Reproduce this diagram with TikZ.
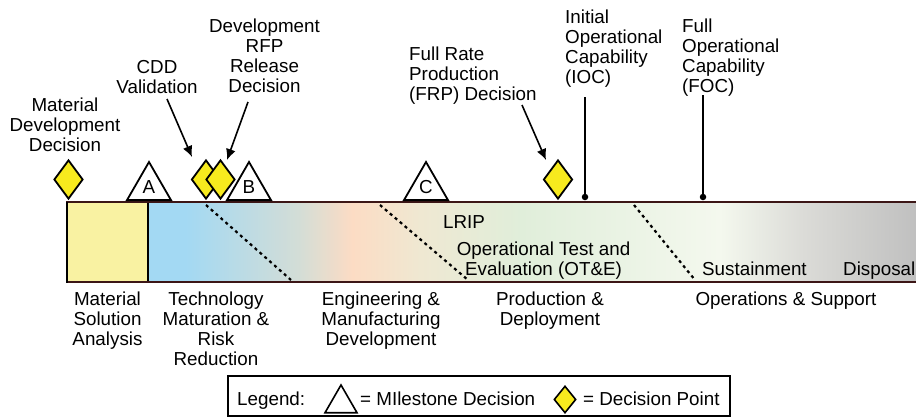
\documentclass[tikz,border=0pt]{standalone}
\usepackage{fontspec}
\setmainfont{Liberation Sans}
\usetikzlibrary{shapes.geometric,arrows.meta}
\definecolor{dyellow}{RGB}{247,234,30}
\definecolor{boxyellow}{RGB}{249,242,162}
\definecolor{barline}{RGB}{60,22,22}
\definecolor{gA}{RGB}{163,217,243}
\definecolor{gB}{RGB}{212,221,214}
\definecolor{gC}{RGB}{252,220,196}
\definecolor{gD}{RGB}{239,232,210}
\definecolor{gE}{RGB}{224,238,218}
\definecolor{gF}{RGB}{244,248,238}
\definecolor{gG}{RGB}{220,220,216}
\definecolor{gH}{RGB}{191,191,191}
\tikzset{
  lbl/.style={font=\fontsize{18.8}{20}\selectfont, inner sep=0pt, align=center, anchor=base},
  lbll/.style={font=\fontsize{18.8}{20}\selectfont, inner sep=0pt, align=left, anchor=base west},
  milestone/.style={regular polygon, regular polygon sides=3, draw=black, fill=white, line width=1.8pt, inner sep=0pt, font=\fontsize{18.8}{20}\selectfont},
  dpoint/.style={diamond, draw=black, fill=dyellow, line width=1.8pt, inner sep=0pt},
  arr/.style={line width=1.6pt, -{Latex[length=11pt,width=10pt]}},
  dotline/.style={line width=2.2pt, dash pattern=on 3pt off 3.5pt},
  stem/.style={line width=1.6pt},
  dotnode/.style={circle, fill=black, inner sep=0pt, minimum size=6.5pt}
}
\begin{document}
\begin{tikzpicture}[x=1pt,y=-1pt]
\useasboundingbox (0,0) rectangle (916,418);
% bar background
\fill[boxyellow] (67,202) rectangle (148,282);
\fill[gA] (148,202) rectangle (186,282);
\shade[left color=gA, right color=gB] (185.5,202) rectangle (300.5,282);
\shade[left color=gB, right color=gC] (300,202) rectangle (352.5,282);
\shade[left color=gC, right color=gD] (352,202) rectangle (420.5,282);
\shade[left color=gD, right color=gE] (420,202) rectangle (520.5,282);
\shade[left color=gE, right color=gF] (520,202) rectangle (720.5,282);
\shade[left color=gF, right color=gG] (720,202) rectangle (800.5,282);
\shade[left color=gG, right color=gH] (800,202) rectangle (920,282);
% phase dividers
\draw[dotline] (206,205) -- (291,280);
\draw[dotline] (380,205) -- (468,280);
\draw[dotline] (634,205) -- (695,280);
% bar border
\draw[barline, line width=2pt] (920,202) -- (67,202) -- (67,282) -- (920,282);
\draw[black, line width=1.8pt] (67,201.5) -- (67,282.5);
\draw[black, line width=1.6pt] (148,203) -- (148,281);
% milestones
\node[milestone, minimum size=50.8pt] (msA) at (149,187.4) {A};
\node[milestone, minimum size=50.8pt] (msB) at (249,187.4) {B};
\node[milestone, minimum size=50.8pt] (msC) at (426,187.4) {C};
% decision points
\node[dpoint, minimum width=29pt, minimum height=39pt] (dpMDD) at (68.5,179.5) {};
\node[dpoint, minimum width=29pt, minimum height=39pt] (dpCDD) at (206,179.5) {};
\node[dpoint, minimum width=29pt, minimum height=39pt] (dpRFP) at (220.5,179.5) {};
\node[dpoint, minimum width=29pt, minimum height=39pt] (dpFRP) at (558,179.5) {};
% top labels (anchor = baseline of last line)
\node[lbl] (tMDD) at (65,151.5) {Material\\Development\\Decision};
\node[lbl] (tCDD) at (157,93.5) {CDD\\Validation};
\node[lbl] (tRFP) at (264.5,92) {Development\\RFP\\Release\\Decision};
\node[lbll] (tFRP) at (409,100) {Full Rate\\Production\\(FRP) Decision};
\node[lbll] (tIOC) at (565,83) {Initial\\Operational\\Capability\\(IOC)};
\node[lbll] (tFOC) at (682,92) {Full\\Operational\\Capability\\(FOC)};
% arrows
\coordinate (aCDDs) at (167,99);
\coordinate (aCDDe) at (192,157);
\coordinate (aRFPs) at (248,102);
\coordinate (aRFPe) at (227,160);
\coordinate (aFRPs) at (522,105);
\coordinate (aFRPe) at (546,160);
\draw[arr] (aCDDs) -- (aCDDe);
\draw[arr] (aRFPs) -- (aRFPe);
\draw[arr] (aFRPs) -- (aFRPe);
% IOC / FOC stems
\node[dotnode] (dIOC) at (585,197) {};
\node[dotnode] (dFOC) at (703,197) {};
\coordinate (sIOC) at (585,97);
\coordinate (sFOC) at (703,95);
\draw[stem] (sIOC) -- (dIOC);
\draw[stem] (sFOC) -- (dFOC);
% labels in bar
\node[lbll] (tLRIP) at (443,228) {LRIP};
\node[lbl] (tOTE) at (543.5,275) {Operational Test and\\Evaluation (OT\&E)};
\node[lbll] (tSus) at (702,275) {Sustainment};
\node[lbll] (tDis) at (843,275) {Disposal};
% phase labels
\node[lbl] (pMSA) at (107.5,345) {Material\\Solution\\Analysis};
\node[lbl] (pTMRR) at (216,365) {Technology\\Maturation \&\\Risk\\Reduction};
\node[lbl] (pEMD) at (381,345) {Engineering \&\\Manufacturing\\Development};
\node[lbl] (pPD) at (550,325) {Production \&\\Deployment};
\node[lbl] (pOS) at (786,305) {Operations \& Support};
% legend
\draw[black, line width=1.6pt] (228,376) rectangle (730,416);
\node[lbll] (lgT) at (237,405) {Legend:};
\node[milestone, minimum size=37pt, line width=1.6pt] (lgTri) at (341,403.5) {};
\node[lbll] (lgM) at (360,405) {= MIlestone Decision};
\node[dpoint, minimum width=22pt, minimum height=27pt, line width=1.6pt] (lgDia) at (565,399.5) {};
\node[lbll] (lgD) at (583,405) {= Decision Point};
\end{tikzpicture}
\end{document}
